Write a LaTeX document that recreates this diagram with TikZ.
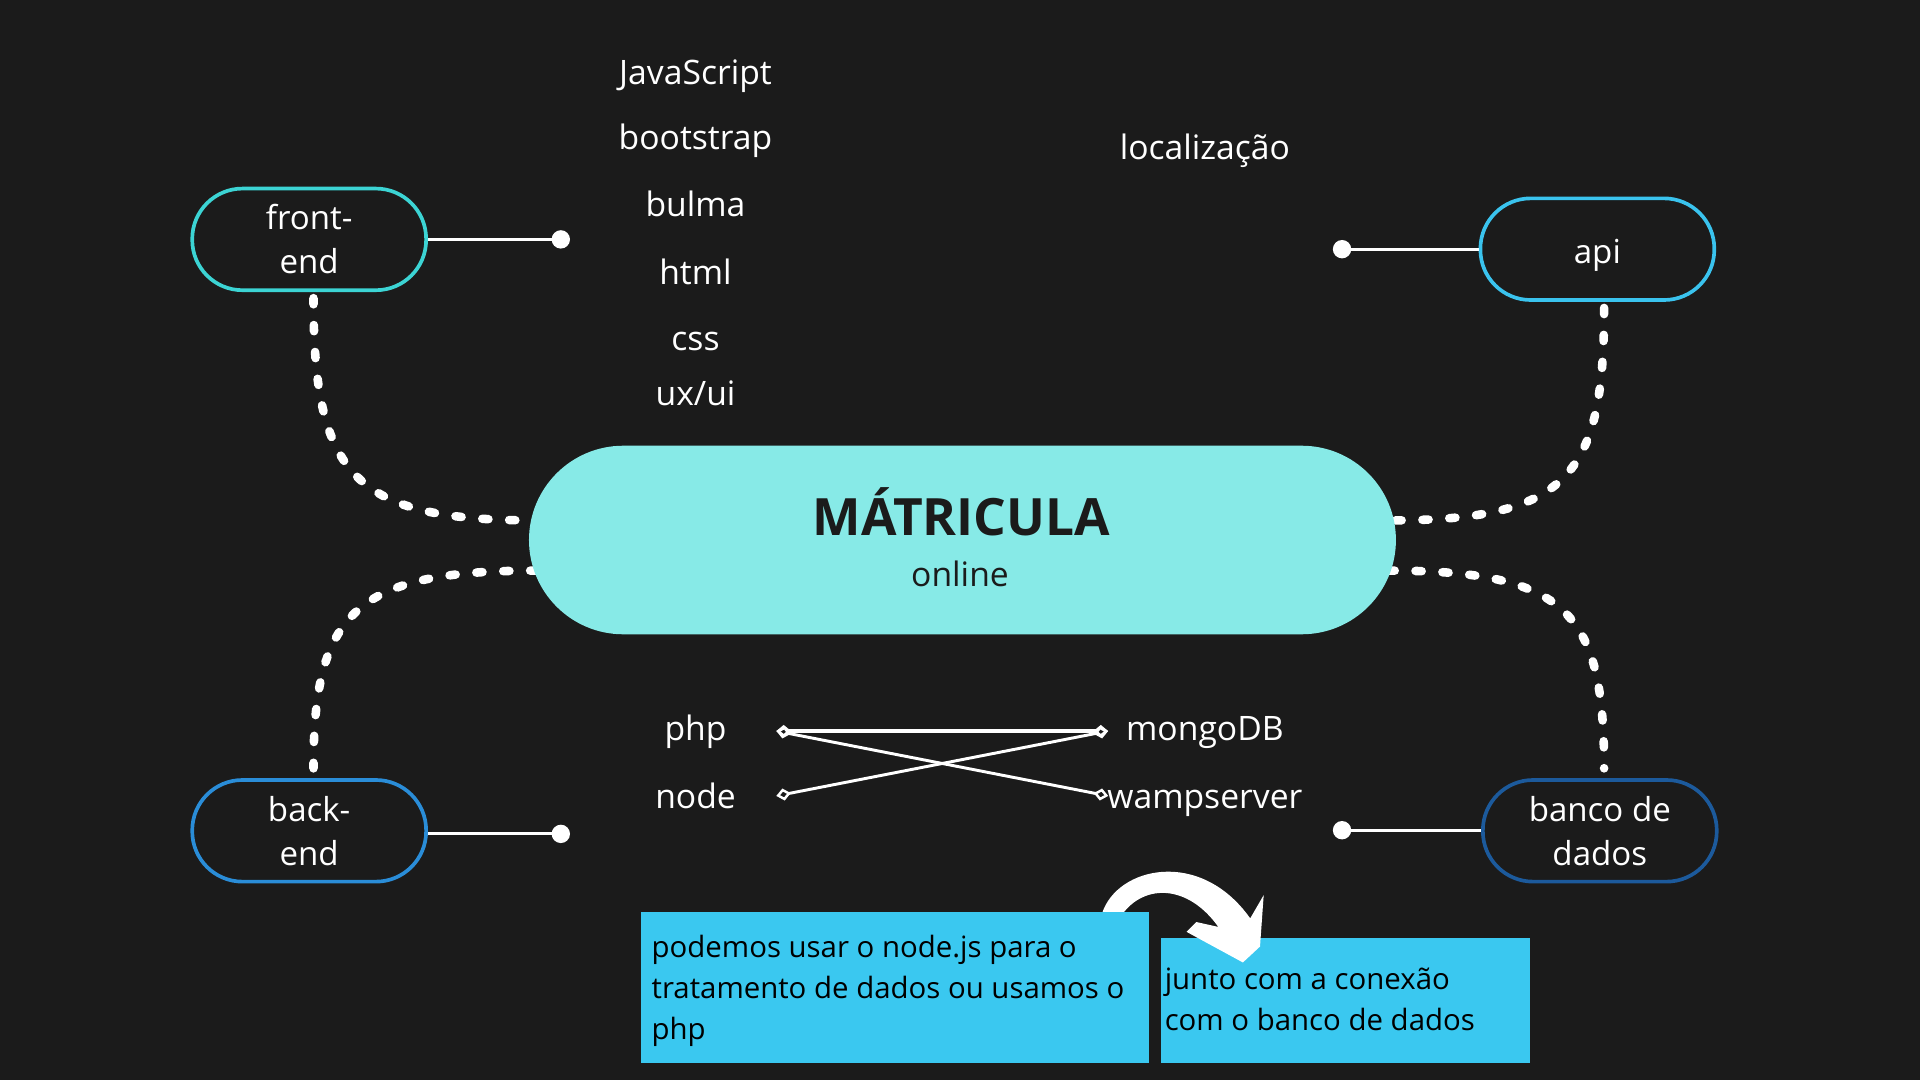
\documentclass[tikz,border=0pt]{standalone}
\usepackage{fontspec}
\setmainfont{Open Sans}
\usetikzlibrary{arrows.meta,calc}
\definecolor{bg}{HTML}{1B1B1B}
\definecolor{matcol}{HTML}{87EAE7}
\definecolor{fecol}{HTML}{3CD4D4}
\definecolor{apicol}{HTML}{3AC3EE}
\definecolor{becol}{HTML}{2A8DD8}
\definecolor{bdcol}{HTML}{1C5A9C}
\definecolor{boxcol}{HTML}{3AC8F0}
\tikzset{
  pill/.style={draw, line width=3, rounded corners=41, minimum width=191, minimum height=83,
    inner sep=0, text=white, align=center, font=\fontsize{27}{36}\selectfont},
  lbl/.style={text=white, anchor=base, inner sep=0, font=\fontsize{27.5}{32}\selectfont},
  conn/.style={white, line width=2.5},
  enddot/.style={white},
  dotline/.style={white, line width=7, line cap=round, dash pattern=on 5pt off 17pt},
  link/.style={white, line width=2.4, {Diamond[open,length=12,width=10,line width=2]}-{Diamond[open,length=12,width=10,line width=2]}},
  infobox/.style={fill=boxcol, inner sep=0, minimum width=#1},
  boxtext/.style={anchor=west, inner sep=0, align=left, text=black, font=\fontsize{24}{33.5}\selectfont}
}
\begin{document}
\begin{tikzpicture}[x=1pt,y=-1pt]
\fill[bg] (0,0) rectangle (1568,882);
\useasboundingbox (0,0) rectangle (1568,882);

% main nodes
\node[pill, draw=fecol] (fe) at (252.5,195.5) {front-\\end};
\node[pill, draw=apicol, text depth=0pt] (api) at (1304.5,203.5) {\raisebox{-4pt}{api}};
\node[pill, draw=becol] (be) at (252.5,678.5) {back-\\end};
\node[pill, draw=bdcol] (bd) at (1306.5,678.5) {banco de\\dados};

% dotted connectors (drawn under the centre pill)
\coordinate (mat-lu) at (438,425);
\coordinate (mat-ll) at (438,466);
\coordinate (mat-ru) at (1134,425);
\coordinate (mat-rl) at (1134,466);
\draw[dotline] ($(fe.south)+(3.5,5)$) .. controls (256,390) and (290,425) .. (mat-lu);
\draw[dotline] ($(api.south)+(5.5,5)$) .. controls (1310,390) and (1280,425) .. (mat-ru);
\draw[dotline] (mat-ll) .. controls (290,466) and (256,500) .. ($(be.north)+(3.5,-8)$);
\draw[dotline] (mat-rl) .. controls (1280,466) and (1310,500) .. ($(bd.north)+(3.5,-8)$);

% centre pill
\node[fill=matcol, rounded corners=77, minimum width=708, minimum height=154, inner sep=0] (mat) at (786,441) {};
\node[anchor=base, inner sep=0, text=bg, font=\fontsize{42}{48}\selectfont\bfseries] (mtitle) at (785,437) {MÁTRICULA};
\node[anchor=base, inner sep=0, text=bg, font=\fontsize{27.5}{32}\selectfont] (msub) at (784,479) {online};

% short connectors with end dots
\coordinate (fedot) at (458,195.5);
\coordinate (apidot) at (1096,203.5);
\coordinate (bedot) at (458,681);
\coordinate (bddot) at (1096,678);
\draw[conn] (fe.east) -- (fedot);
\draw[conn] (apidot) -- (api.west);
\draw[conn] (bedot -| be.east) -- (bedot);
\draw[conn] (bddot) -- (bddot -| bd.west);
\fill[enddot] (fedot) circle (7.5);
\fill[enddot] (apidot) circle (7.5);
\fill[enddot] (bedot) circle (7.5);
\fill[enddot] (bddot) circle (7.5);

% labels
\node[lbl] (js) at (568,69) {JavaScript};
\node[lbl] (bs) at (568,122) {bootstrap};
\node[lbl] (bu) at (568,177) {bulma};
\node[lbl] (ht) at (568,232) {html};
\node[lbl] (cs) at (568,286) {css};
\node[lbl] (ux) at (568,331) {ux/ui};
\node[lbl] (loc) at (984,130) {localização};
\node[lbl] (php) at (568,605) {php};
\node[lbl] (nd) at (568,660) {node};
\node[lbl] (mg) at (984,605) {mongoDB};
\node[lbl] (wp) at (984,660) {wampserver};

% diamond links
\coordinate (dphp) at (634,597);
\coordinate (dmongo) at (905,597);
\coordinate (dnode) at (634,650);
\coordinate (dwamp) at (905,650);
\draw[link, line width=3.2] (dphp) -- (dmongo);
\draw[link] (dphp) -- (dwamp);
\draw[link] (dnode) -- (dmongo);

% notes
\node[infobox=301, minimum height=102, anchor=north west] (box2) at (948,766) {};
\node[boxtext] (t2) at (951,816) {junto com a conexão\\com o banco de dados};
\fill[white] (900,746) .. controls (912,708) and (980,692) .. (1021,750)
  -- (1032,731) -- (1029,773) -- (1015,786) -- (969,761) -- (977,753) -- (995,757)
  .. controls (970,722) and (935,722) .. (917,746) -- cycle;
\node[infobox=415, minimum height=123, anchor=north west] (box1) at (523,745) {};
\node[boxtext] (t1) at (532,809) {podemos usar o node.js para o\\tratamento de dados ou usamos o\\php};
\end{tikzpicture}
\end{document}
